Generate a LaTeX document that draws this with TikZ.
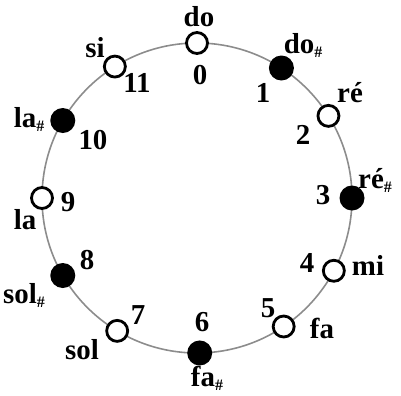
\documentclass[tikz,border=0pt]{standalone}
\usepackage{fontspec}
\setmainfont{Liberation Serif}
\newcommand{\shp}{{\fontsize{16}{16}\selectfont\raisebox{-4bp}{\#}}}
\begin{document}
\begin{tikzpicture}[x=1bp,y=-1bp,
  ring/.style={draw=black!45, line width=1.6bp},
  wnote/.style={circle, draw=black, fill=white, line width=2.8bp, minimum size=21bp, inner sep=0},
  bnote/.style={circle, fill=black, minimum size=25bp, inner sep=0},
  lab/.style={font=\bfseries\fontsize{29}{29}\selectfont, inner sep=0}]
\useasboundingbox (0,0) rectangle (401,396);
\coordinate (c) at (197,198);
\draw[ring] (c) circle[radius=155bp];
\node[wnote] (n0)  at ([shift={(90:155bp)}]c) {};
\node[bnote] (n1)  at ([shift={(57:155bp)}]c) {};
\node[wnote] (n2)  at ([shift={(32:155bp)}]c) {};
\node[bnote] (n3)  at ([shift={(0:155bp)}]c) {};
\node[wnote] (n4)  at ([shift={(-28:155bp)}]c) {};
\node[wnote] (n5)  at ([shift={(-56:155bp)}]c) {};
\node[bnote] (n6)  at ([shift={(-89:155bp)}]c) {};
\node[wnote] (n7)  at ([shift={(-121:155bp)}]c) {};
\node[bnote] (n8)  at ([shift={(-150:155bp)}]c) {};
\node[wnote] (n9)  at ([shift={(180:155bp)}]c) {};
\node[bnote] (n10) at ([shift={(150:155bp)}]c) {};
\node[wnote] (n11) at ([shift={(122:155bp)}]c) {};
% note names
\node[lab] (t0)  at (199,17) {do};
\node[lab] (t1)  at (303,45) {do\shp};
\node[lab] (t2)  at (350,93) {ré};
\node[lab] (t3)  at (375,180) {ré\shp};
\node[lab] (t4)  at (368,265) {mi};
\node[lab] (t5)  at (322,328) {fa};
\node[lab] (t6)  at (207,378) {fa\shp};
\node[lab] (t7)  at (82,350) {sol};
\node[lab] (t8)  at (24,295) {sol\shp};
\node[lab] (t9)  at (25,220) {la};
\node[lab] (t10) at (29,119) {la\shp};
\node[lab] (t11) at (95,48) {si};
% numbers
\node[lab] (k0)  at (200,75) {0};
\node[lab] (k1)  at (263,93) {1};
\node[lab] (k2)  at (303,135) {2};
\node[lab] (k3)  at (323,195) {3};
\node[lab] (k4)  at (307,263) {4};
\node[lab] (k5)  at (268,308) {5};
\node[lab] (k6)  at (202,322) {6};
\node[lab] (k7)  at (138,315) {7};
\node[lab] (k8)  at (87,260) {8};
\node[lab] (k9)  at (68,202) {9};
\node[lab] (k10) at (93,140) {10};
\node[lab] (k11) at (137,83) {11};
\end{tikzpicture}
\end{document}
